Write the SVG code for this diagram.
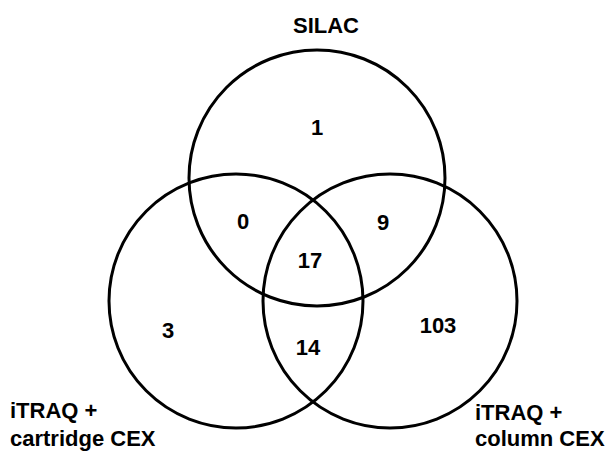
<svg xmlns="http://www.w3.org/2000/svg" width="613" height="454" viewBox="0 0 613 454">
<style>
.c{fill:none;stroke:#000;stroke-width:3}
.t{font-family:"Liberation Sans",Arial,sans-serif;font-weight:bold;font-size:22px;fill:#000}
.m{text-anchor:middle}
</style>
<rect width="613" height="454" fill="#fff"/>
<g id="silac"><circle class="c" cx="317" cy="178" r="128"/><text class="t m" x="326" y="33">SILAC</text></g>
<g id="cartridge"><circle class="c" cx="236" cy="301" r="127"/><text class="t" x="10" y="418">iTRAQ +</text><text class="t" x="10" y="446">cartridge CEX</text></g>
<g id="column"><circle class="c" cx="390" cy="301" r="127"/><text class="t" x="475" y="420">iTRAQ +</text><text class="t" x="475" y="446">column CEX</text></g>
<g id="counts">
<text class="t m" x="317" y="135">1</text>
<text class="t m" x="243" y="229">0</text>
<text class="t m" x="383" y="230">9</text>
<text class="t m" x="310" y="268">17</text>
<text class="t m" x="168" y="338">3</text>
<text class="t m" x="308" y="355">14</text>
<text class="t m" x="438" y="333">103</text>
</g>
</svg>
